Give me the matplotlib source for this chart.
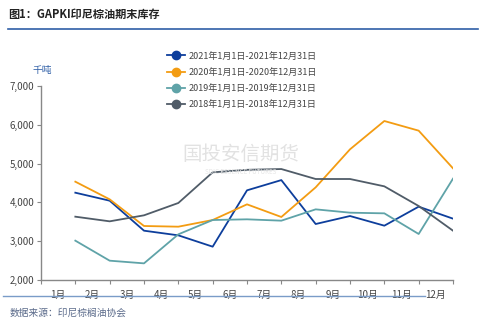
import matplotlib
matplotlib.use("Agg")
import matplotlib.pyplot as plt
from matplotlib.lines import Line2D

plt.rcParams['font.family'] = ['Noto Sans CJK SC', 'DejaVu Sans']

months = ["1月", "2月", "3月", "4月", "5月", "6月", "7月", "8月", "9月", "10月", "11月", "12月"]
s2021 = [4250, 4044, 3271, 3151, 2859, 4311, 4575, 3443, 3649, 3400, 3890, 3581]
s2020 = [4534, 4079, 3392, 3374, 3546, 3950, 3624, 4388, 5368, 6098, 5849, 4878]
s2019 = [3014, 2498, 2429, 3177, 3546, 3564, 3529, 3821, 3735, 3718, 3186, 4612]
s2018 = [3632, 3512, 3667, 3985, 4775, 4840, 4860, 4603, 4603, 4414, 3907, 3271]
labels = ["2021年1月1日-2021年12月31日", "2020年1月1日-2020年12月31日",
          "2019年1月1日-2019年12月31日", "2018年1月1日-2018年12月31日"]
colors = ["#0D3E9C", "#F39C12", "#5FA3A8", "#505C68"]
yticks = [2000, 3000, 4000, 5000, 6000, 7000]

fig = plt.figure(figsize=(4.82, 3.22), dpi=100)
ax = fig.add_axes([41/482, 1-280/322, (453-41)/482, (280-86)/322])

xs = list(range(1, 13))
for data, c in zip([s2021, s2020, s2019, s2018], colors):
    ax.plot(xs, data, color=c, lw=1.3, zorder=3)

ax.set_xlim(0, 12)
ax.set_ylim(2000, 7000)
ax.set_yticks(yticks)
ax.set_yticklabels([f"{v:,}" for v in yticks], fontsize=7, color="#444444")
ax.set_xticks(range(0, 13))
ax.set_xticklabels([])
ax.set_xticks([i + 0.5 for i in range(12)], minor=True)
ax.set_xticklabels(months, minor=True, fontsize=7, color="#444444")
ax.tick_params(axis='x', which='minor', length=0, pad=7)
ax.tick_params(axis='x', which='major', length=3, color="#888888")
ax.tick_params(axis='y', length=3, color="#888888", pad=2)
for s in ["top", "right"]:
    ax.spines[s].set_visible(False)
for s in ["left", "bottom"]:
    ax.spines[s].set_color("#888888")
    ax.spines[s].set_linewidth(1.0)

# watermark
fig.text(0.50, 0.52, "国投安信期货", fontsize=14, color="#E2E2E2", ha="center", va="center", zorder=0)
fig.text(0.50, 0.465, "SDIC ESSENCE FUTURES", fontsize=4.5, color="#E6E6E6", ha="center", va="center", zorder=0)

handles = [Line2D([0], [0], color=c, lw=1.3, marker='o', markersize=6) for c in colors]
leg = fig.legend(handles, labels, loc="upper left", bbox_to_anchor=(163/482, 1-48/322),
                 frameon=False, fontsize=6.5, handlelength=2.0, labelspacing=0.8,
                 handletextpad=0.4, borderaxespad=0)
for t in leg.get_texts():
    t.set_color("#444444")

fig.text(8/482, 1-14/322, "图1：GAPKI印尼棕油期末库存", fontsize=8, fontweight="bold",
         color="#222222", ha="left", va="center")
fig.add_artist(Line2D([8/482, 478/482], [1-29/322, 1-29/322], color="#2F5FA7", lw=1.2))
fig.text(42/482, 1-70/322, "千吨", fontsize=7, color="#2F5FA7", ha="center", va="center")
fig.add_artist(Line2D([3/482, 425/482], [1-296/322, 1-296/322], color="#7A9CC8", lw=1.0))
fig.text(10/482, 1-313/322, "数据来源：印尼棕榈油协会", fontsize=7, color="#5A6A8A",
         style="italic", ha="left", va="center")

fig.savefig("out.png", dpi=100)
